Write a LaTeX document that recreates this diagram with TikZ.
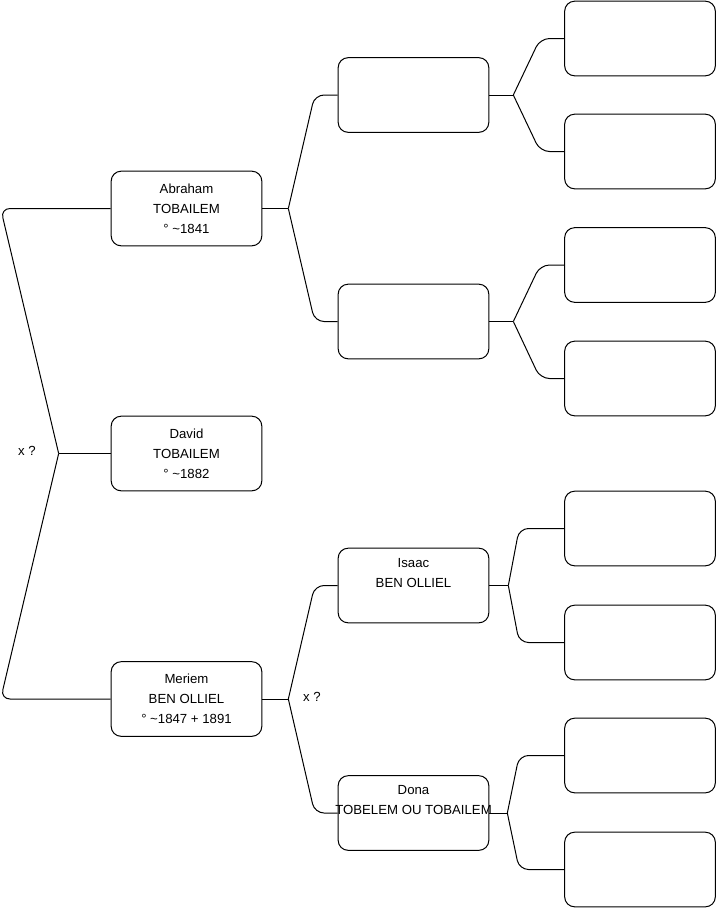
\documentclass[tikz,border=0pt]{standalone}
\usepackage{fontspec}
\setmainfont{Liberation Sans}
\usetikzlibrary{calc}
\begin{document}
\begin{tikzpicture}[x=0.75pt, y=-0.75pt, line width=0.75pt,
  person/.style={draw, rounded corners=7.5pt, minimum width=113pt, minimum height=56pt, inner sep=0pt, align=center, font=\fontsize{9.9}{15}\selectfont},
  note/.style={font=\fontsize{9.9}{15}\selectfont, inner sep=0pt},
  link/.style={rounded corners=7pt}]
\useasboundingbox (0,0) rectangle (716,908);
% generation 1
\node[person] (abraham) at (186.5,208.5) {Abraham\\TOBAILEM\\° \textasciitilde1841};
\node[person] (david) at (186.5,453.5) {David\\TOBAILEM\\° \textasciitilde1882};
\node[person] (meriem) at (186.5,699) {Meriem\\BEN OLLIEL\\° \textasciitilde1847 + 1891};
% generation 2
\node[person] (boxa) at (413.5,95) {};
\node[person] (boxb) at (413.5,321.5) {};
\node[person] (isaac) at (413.5,585.5) {Isaac\\BEN OLLIEL\\\strut};
\node[person] (dona) at (413.5,813) {Dona\\\makebox[0pt]{TOBELEM OU TOBAILEM}\\\strut};
% generation 3
\foreach \n/\y in {g1/38.5, g2/151.5, g3/265, g4/378.5, g5/528.5, g6/642.5, g7/755.5, g8/869.5}
  \node[person] (\n) at (640,\y) {};
% unions
\node[note] (xa) at (27,451) {x ?};
\node[note] (xb) at (312,697) {x ?};
% links
\coordinate (j-david) at ($(david.west)+(-52,0)$);
\draw (j-david) -- (david.west);
\draw[link] (j-david) -- ($(abraham.west)+(-110,0)$) -- (abraham.west);
\draw[link] (j-david) -- ($(meriem.west)+(-110,0)$) -- (meriem.west);
\foreach \p/\u/\d/\j/\c in {abraham/boxa/boxb/26/23, meriem/isaac/dona/26/23, boxa/g1/g2/24/24, boxb/g3/g4/24/24, isaac/g5/g6/19/45, dona/g7/g8/18/45} {
  \coordinate (j-\p) at ($(\p.east)+(\j,0)$);
  \draw (\p.east) -- (j-\p);
  \draw[link] (j-\p) -- ($(\u.west)+(-\c,0)$) -- (\u.west);
  \draw[link] (j-\p) -- ($(\d.west)+(-\c,0)$) -- (\d.west);
}
\end{tikzpicture}
\end{document}
